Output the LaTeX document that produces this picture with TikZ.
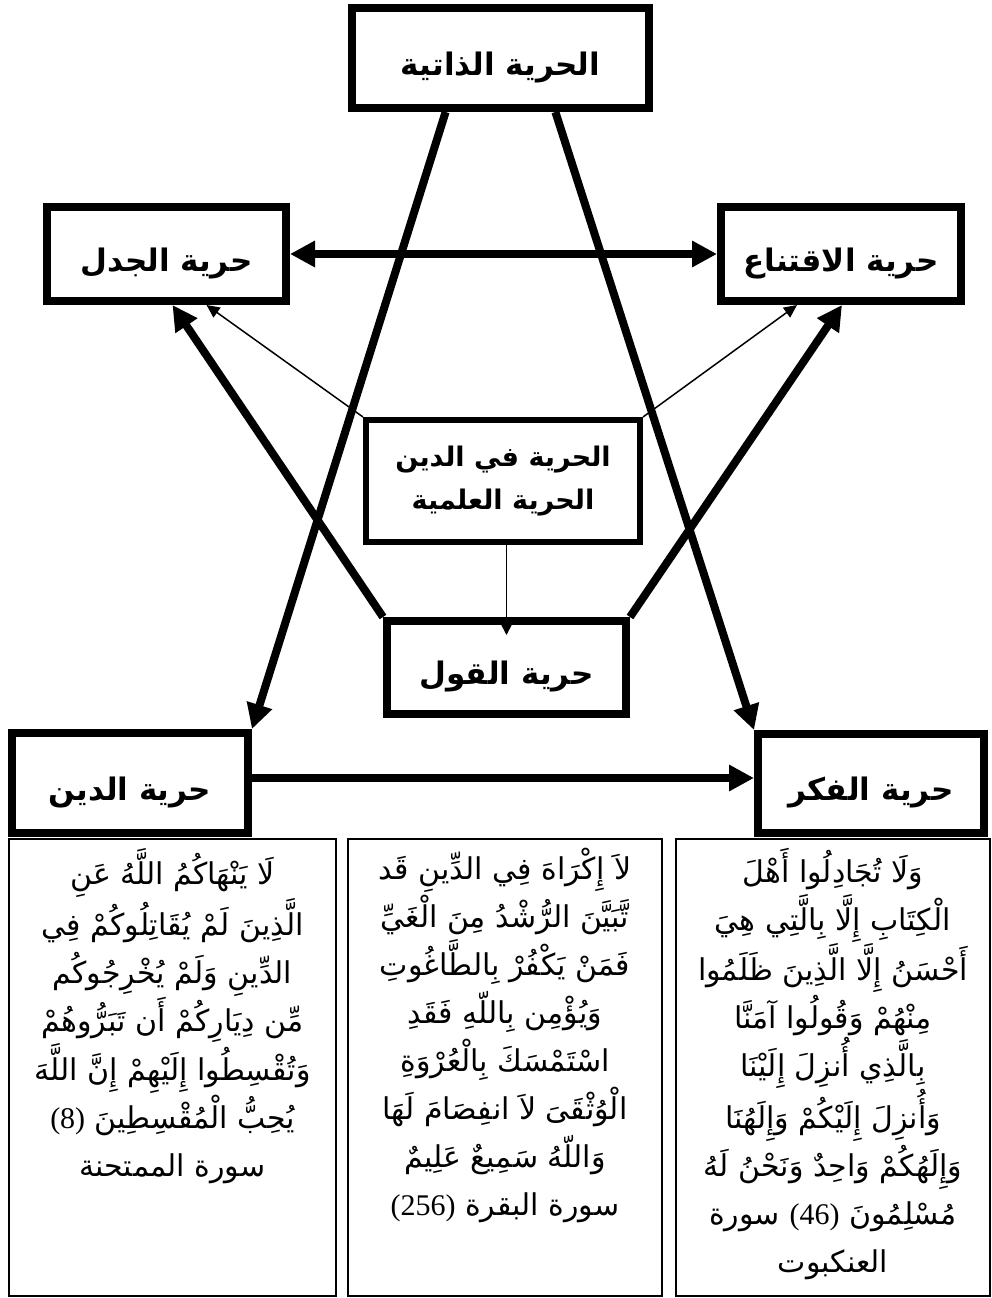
\documentclass[tikz,border=0pt]{standalone}
\usepackage{fontspec}
\usetikzlibrary{arrows.meta,calc}
\TeXXeTstate=1
\newfontfamily\arabicfont[Script=Arabic]{DejaVu Sans}
\newfontfamily\numfont{Liberation Serif}
\tikzset{
  bigbox/.style={draw, line width=8pt, fill=white, inner sep=0pt, align=center,
    text height=36pt, text depth=2pt,
    font=\arabicfont\bfseries\fontsize{31}{40}\selectfont},
  midbox/.style={draw, line width=6pt, fill=white, inner sep=0pt, align=center,
    font=\arabicfont\bfseries\fontsize{27}{43}\selectfont},
  versebox/.style={draw, line width=2pt, inner sep=0pt},
  versetext/.style={anchor=north, align=center, inner sep=0pt,
    font=\arabicfont\fontsize{30}{48}\selectfont},
  bigarrow/.style={line width=8pt, -{Triangle[length=25pt,width=25pt]}},
  thinarrow/.style={line width=1.5pt, -{Triangle[length=13pt,width=12pt]}},
}
\begin{document}
\begin{tikzpicture}[x=1pt,y=-1pt]
\useasboundingbox (0,0) rectangle (992,1298);
% main boxes
\node[bigbox, minimum width=297pt, minimum height=100pt] (top) at (500.5,58) {\beginR الحرية الذاتية\endR};
\node[bigbox, minimum width=239pt, minimum height=94pt] (jadal) at (166.5,254) {\beginR حرية الجدل\endR};
\node[bigbox, minimum width=240pt, minimum height=94pt] (iqt) at (841,254) {\beginR حرية الاقتناع\endR};
\node[midbox, minimum width=274pt, minimum height=122pt] (cen) at (503,481) {\beginR الحرية في الدين\endR\\\beginR الحرية العلمية\endR};
\node[bigbox, minimum width=239pt, minimum height=93pt] (qawl) at (506.5,667.5) {\beginR حرية القول\endR};
\node[bigbox, minimum width=236pt, minimum height=100pt] (din) at (130,783) {\beginR حرية الدين\endR};
\node[bigbox, minimum width=226pt, minimum height=99pt] (fikr) at (871,783.5) {\beginR حرية الفكر\endR};
% verse boxes
\node[versebox, minimum width=327pt, minimum height=457pt] (v1) at (172.5,1067.5) {};
\node[versebox, minimum width=314pt, minimum height=457pt] (v2) at (505,1067.5) {};
\node[versebox, minimum width=314pt, minimum height=457pt] (v3) at (833,1067.5) {};
\node[versetext] (t1) at ($(v1.north)+(0,10)$) {%
\beginR لَا يَنْهَاكُمُ اللَّهُ عَنِ\endR\\
\beginR الَّذِينَ لَمْ يُقَاتِلُوكُمْ فِي\endR\\
\beginR الدِّينِ وَلَمْ يُخْرِجُوكُم\endR\\
\beginR مِّن دِيَارِكُمْ أَن تَبَرُّوهُمْ\endR\\
\beginR وَتُقْسِطُوا إِلَيْهِمْ إِنَّ اللَّهَ\endR\\
\beginR يُحِبُّ الْمُقْسِطِينَ \beginL{\numfont(8)}\endL\endR\\
\beginR سورة الممتحنة\endR};
\node[versetext] (t2) at ($(v2.north)+(0,10)$) {%
\beginR لاَ إِكْرَاهَ فِي الدِّينِ قَد\endR\\
\beginR تَّبَيَّنَ الرُّشْدُ مِنَ الْغَيِّ\endR\\
\beginR فَمَنْ يَكْفُرْ بِالطَّاغُوتِ\endR\\
\beginR وَيُؤْمِن بِاللّهِ فَقَدِ\endR\\
\beginR اسْتَمْسَكَ بِالْعُرْوَةِ\endR\\
\beginR الْوُثْقَىَ لاَ انفِصَامَ لَهَا\endR\\
\beginR وَاللّهُ سَمِيعٌ عَلِيمٌ\endR\\
\beginR سورة البقرة \beginL{\numfont(256)}\endL\endR};
\node[versetext] (t3) at ($(v3.north)+(0,10)$) {%
\beginR وَلَا تُجَادِلُوا أَهْلَ\endR\\
\beginR الْكِتَابِ إِلَّا بِالَّتِي هِيَ\endR\\
\beginR أَحْسَنُ إِلَّا الَّذِينَ ظَلَمُوا\endR\\
\beginR مِنْهُمْ وَقُولُوا آمَنَّا\endR\\
\beginR بِالَّذِي أُنزِلَ إِلَيْنَا\endR\\
\beginR وَأُنزِلَ إِلَيْكُمْ وَإِلَهُنَا\endR\\
\beginR وَإِلَهُكُمْ وَاحِدٌ وَنَحْنُ لَهُ\endR\\
\beginR مُسْلِمُونَ \beginL{\numfont(46)}\endL{} سورة\endR\\
\beginR العنكبوت\endR};
% coordinates
\coordinate (topL) at ($(top.south west)!0.32!(top.south east)$);
\coordinate (topR) at ($(top.south west)!0.68!(top.south east)$);
\coordinate (jThick) at ($(jadal.south)+(6,0)$);
\coordinate (jThin) at ($(jadal.south)+(40,0)$);
\coordinate (iThick) at ($(iqt.south)+(1,0)$);
\coordinate (iThin) at ($(iqt.south)+(-44,0)$);
\coordinate (hStart) at ($(din.east)+(0,-5)$);
\coordinate (qTip) at ($(qawl.north)+(0,18)$);
% connectors
\draw[bigarrow, {Triangle[length=25pt,width=25pt]}-{Triangle[length=25pt,width=25pt]}] (jadal.east) -- (iqt.west);
\draw[bigarrow] (topL) -- (din.north east);
\draw[bigarrow] (topR) -- (fikr.north west);
\draw[bigarrow] (qawl.north west) -- (jThick);
\draw[bigarrow] (qawl.north east) -- (iThick);
\draw[thinarrow] (cen.north west) -- (jThin);
\draw[thinarrow] (cen.north east) -- (iThin);
\draw[line width=1.5pt, -{Triangle[length=10pt,width=10pt]}] (qawl.north |- cen.south) -- (qTip);
\draw[bigarrow] (hStart) -- (hStart -| fikr.west);
\end{tikzpicture}
\end{document}
